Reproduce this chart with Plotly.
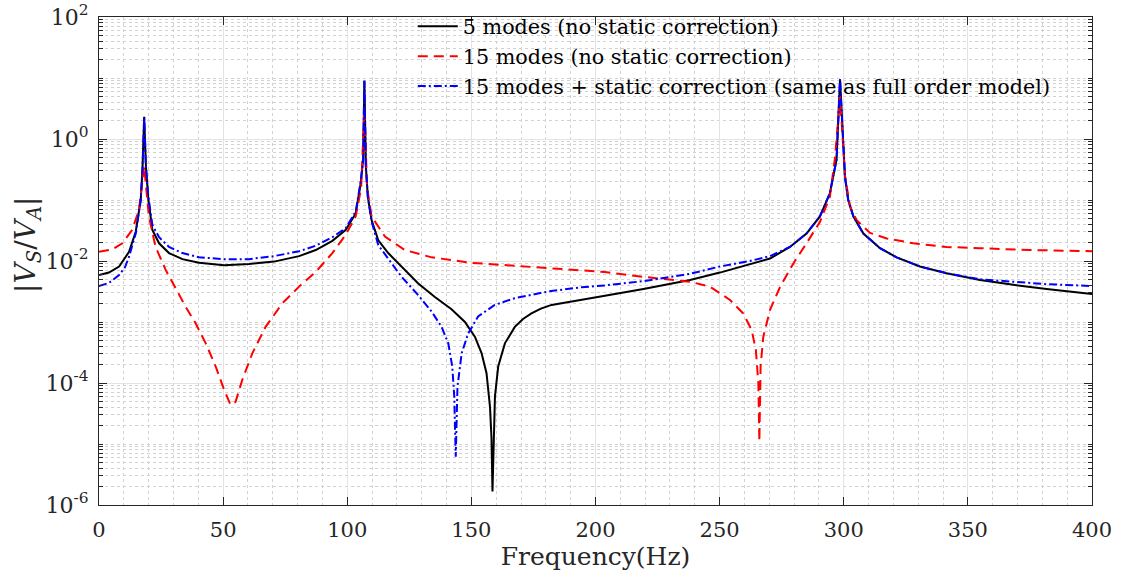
import plotly.graph_objects as go

# ---------------- data (frequency in Hz, log10 of |Vs/Va|) ----------------
f_black = [0, 4.0, 8.1, 10.5, 12.1, 14.8, 16.8, 17.5, 18.2, 18.9, 19.9, 21.5, 24.2, 28.2, 33.6, 40.3, 50.4,
           60.4, 70.5, 80.6, 87.3, 94, 99.4, 103.4, 105.4, 106.4, 106.9, 107.5, 108.3, 109.8, 112.5, 116.5,
           121.9, 128.6, 135.3, 142, 147.4, 151.4, 154.1, 156.1, 157.5, 158.1, 158.5, 159.0, 159.5, 160.8,
           163.5, 167.5, 170.8, 174.2, 178.0, 182.3, 193, 203.8, 219.3, 238.1, 250.1, 262.2, 270.3, 278.3,
           285, 290.4, 294.4, 297.1, 298.5, 299.8, 300.5, 301.8, 303.9, 307.9, 314.6, 321.3, 330.7, 341.4,
           354.9, 368.3, 381.7, 400]
lg_black = [-2.23, -2.19, -2.09, -1.95, -1.85, -1.52, -1.0, -0.51, 0.366, -0.45, -1.0, -1.49, -1.71, -1.87,
            -1.97, -2.03, -2.07, -2.05, -2.01, -1.92, -1.82, -1.67, -1.49, -1.22, -0.73, -0.34, 0.956, -0.45,
            -0.95, -1.33, -1.66, -1.87, -2.10, -2.37, -2.59, -2.79, -3.0, -3.24, -3.51, -3.84, -4.39, -4.9,
            -5.78, -4.9, -4.22, -3.73, -3.35, -3.08, -2.95, -2.86, -2.78, -2.72, -2.64, -2.57, -2.46, -2.31,
            -2.19, -2.05, -1.96, -1.77, -1.55, -1.27, -0.89, -0.34, 0.98, -0.07, -0.62, -1.0, -1.27, -1.55,
            -1.79, -1.94, -2.09, -2.20, -2.31, -2.39, -2.46, -2.54]

f_red = [0, 5.4, 9.4, 13.4, 16.1, 17.5, 18.2, 19.0, 20.1, 22.8, 26.9, 30.9, 34.9, 38.9, 43, 47, 50.4, 53,
         55, 57.7, 61.8, 67.1, 73.9, 80.6, 87.3, 94, 99.4, 103.4, 105.6, 106.9, 108.0, 109.8, 115.2, 123.2,
         134, 150.1, 167.5, 185, 203.8, 219.3, 238.1, 246.1, 254.2, 259.5, 262.9, 264.6, 265.6, 266.0, 266.5,
         267.6, 270.3, 274.4, 279.7, 285, 290.4, 294.4, 296.5, 298.5, 300.5, 302.5, 305.2, 310.6, 317.3, 328,
         341.4, 354.9, 375, 400]
lg_red = [-1.85, -1.81, -1.71, -1.49, -1.16, -0.62, -0.45, -0.8, -1.27, -1.77, -2.15, -2.45, -2.75, -3.02,
          -3.35, -3.73, -4.11, -4.36, -4.31, -3.95, -3.51, -3.08, -2.69, -2.42, -2.18, -1.87, -1.57, -1.27,
          -0.8, 0.5, -0.8, -1.27, -1.60, -1.82, -1.94, -2.03, -2.08, -2.13, -2.18, -2.26, -2.34, -2.42, -2.64,
          -2.86, -3.13, -3.46, -4.0, -4.96, -3.73, -3.24, -2.80, -2.42, -2.04, -1.71, -1.36, -0.95, -0.3, 0.7,
          -0.6, -1.11, -1.33, -1.54, -1.63, -1.71, -1.77, -1.79, -1.82, -1.84]

f_blue = [0, 4.0, 8.1, 10.5, 12.1, 14.8, 16.8, 17.5, 18.2, 18.9, 19.9, 21.5, 24.2, 28.2, 33.6, 40.3, 50.4,
          60.4, 70.5, 80.6, 87.3, 94, 99.4, 103.4, 105.4, 106.4, 106.9, 107.5, 108.3, 109.8, 112.5, 116.5,
          121.9, 128.6, 134, 138, 140.7, 142.3, 143.1, 143.7, 144.4, 146.1, 148.7, 152.7, 159.4, 167.5, 180.9,
          194.4, 203.8, 219.3, 238.1, 250.1, 262.2, 270.3, 278.3, 285, 290.4, 294.4, 297.1, 298.5, 299.8,
          300.5, 301.8, 303.9, 307.9, 314.6, 321.3, 330.7, 341.4, 354.9, 368.3, 381.7, 400]
lg_blue = [-2.41, -2.36, -2.23, -2.10, -1.93, -1.55, -1.0, -0.51, 0.366, -0.45, -0.95, -1.41, -1.61, -1.77,
           -1.87, -1.94, -1.97, -1.97, -1.92, -1.84, -1.75, -1.61, -1.46, -1.19, -0.70, -0.34, 0.956, -0.45,
           -0.95, -1.35, -1.74, -1.96, -2.26, -2.56, -2.83, -3.08, -3.35, -3.73, -4.22, -5.21, -4.06, -3.51,
           -3.19, -2.91, -2.72, -2.61, -2.50, -2.43, -2.40, -2.33, -2.21, -2.09, -2.00, -1.92, -1.77, -1.55,
           -1.27, -0.89, -0.34, 0.98, -0.07, -0.62, -1.0, -1.27, -1.55, -1.79, -1.94, -2.09, -2.20, -2.30,
           -2.34, -2.38, -2.41]

v_black = [10 ** e for e in lg_black]
v_red = [10 ** e for e in lg_red]
v_blue = [10 ** e for e in lg_blue]

names = ["5 modes (no static correction)",
         "15 modes (no static correction)",
         "15 modes + static correction (same as full order model)"]

x_ticks = [0, 50, 100, 150, 200, 250, 300, 350, 400]
y_ticks = [1e-6, 1e-4, 1e-2, 1e0, 1e2]
y_ticktext = ["10<sup>-6</sup>", "10<sup>-4</sup>", "10<sup>-2</sup>", "10<sup>0</sup>", "10<sup>2</sup>"]
x_minor = [v for v in range(0, 401, 10) if v % 50]
y_minor = []
for e in range(-6, 2):
    for m in range(2, 10):
        y_minor.append(m * 10.0 ** e)
    if e % 2:
        y_minor.append(10.0 ** e)

FONT = "DejaVu Serif"
AX = "#262626"

fig = go.Figure()
fig.add_trace(go.Scatter(x=f_black, y=v_black, mode="lines", name=names[0],
                         line=dict(color="#000000", width=2)))
fig.add_trace(go.Scatter(x=f_red, y=v_red, mode="lines", name=names[1],
                         line=dict(color="#ff0000", width=2, dash="10px,6px")))
fig.add_trace(go.Scatter(x=f_blue, y=v_blue, mode="lines", name=names[2],
                         line=dict(color="#0000ff", width=2, dash="8px,3px,2px,3px")))

fig.update_layout(
    width=1123, height=580,
    margin=dict(l=99, r=31, t=17, b=75, autoexpand=False),
    paper_bgcolor="white", plot_bgcolor="white",
    font=dict(family=FONT, color=AX),
    hovermode=False,
    showlegend=True,
    legend=dict(x=0.316, y=1.022, xanchor="left", yanchor="top",
                bgcolor="rgba(0,0,0,0)", borderwidth=0,
                font=dict(family=FONT, size=20.7, color="#000000"),
                itemwidth=40, tracegroupgap=0),
    annotations=[dict(text="|<i>V</i><sub><i>S</i></sub>/<i>V</i><sub><i>A</i></sub>|",
                      xref="paper", yref="paper", x=-0.0715, y=0.533,
                      xanchor="center", yanchor="middle", textangle=-90, showarrow=False,
                      font=dict(family=FONT, size=28, color=AX))],
)
fig.update_xaxes(
    range=[0, 400], tickvals=x_ticks, ticks="inside", ticklen=8, tickcolor=AX,
    showline=True, linecolor=AX, linewidth=1, mirror="allticks", automargin=False,
    showgrid=True, gridcolor="#e3e3e3", gridwidth=1, zeroline=False, ticklabeloverflow="allow",
    tickfont=dict(family=FONT, size=21, color=AX), ticklabelstandoff=6,
    title=dict(text="Frequency(Hz)", font=dict(family=FONT, size=25, color=AX), standoff=6),
    minor=dict(tickvals=x_minor, showgrid=True, gridcolor="#d2d2d2", griddash="dot", gridwidth=1, ticks=""),
)
fig.update_yaxes(
    type="log", range=[-6, 2], tickvals=y_ticks, ticktext=y_ticktext,
    ticks="inside", ticklen=8, tickcolor=AX,
    showline=True, linecolor=AX, linewidth=1, mirror="allticks", automargin=False,
    showgrid=True, gridcolor="#e3e3e3", gridwidth=1, zeroline=False, ticklabeloverflow="allow",
    tickfont=dict(family=FONT, size=22, color=AX), ticklabelstandoff=5,
    minor=dict(tickvals=y_minor, showgrid=True, gridcolor="#d2d2d2", griddash="dot", gridwidth=1,
               ticks="inside", ticklen=4, tickcolor=AX),
)

# remove the default 8px page margin so the figure sits at the window origin
fig.write_html("out.html", config={"displayModeBar": False, "staticPlot": True},
               post_script="document.body.style.margin='0';")
